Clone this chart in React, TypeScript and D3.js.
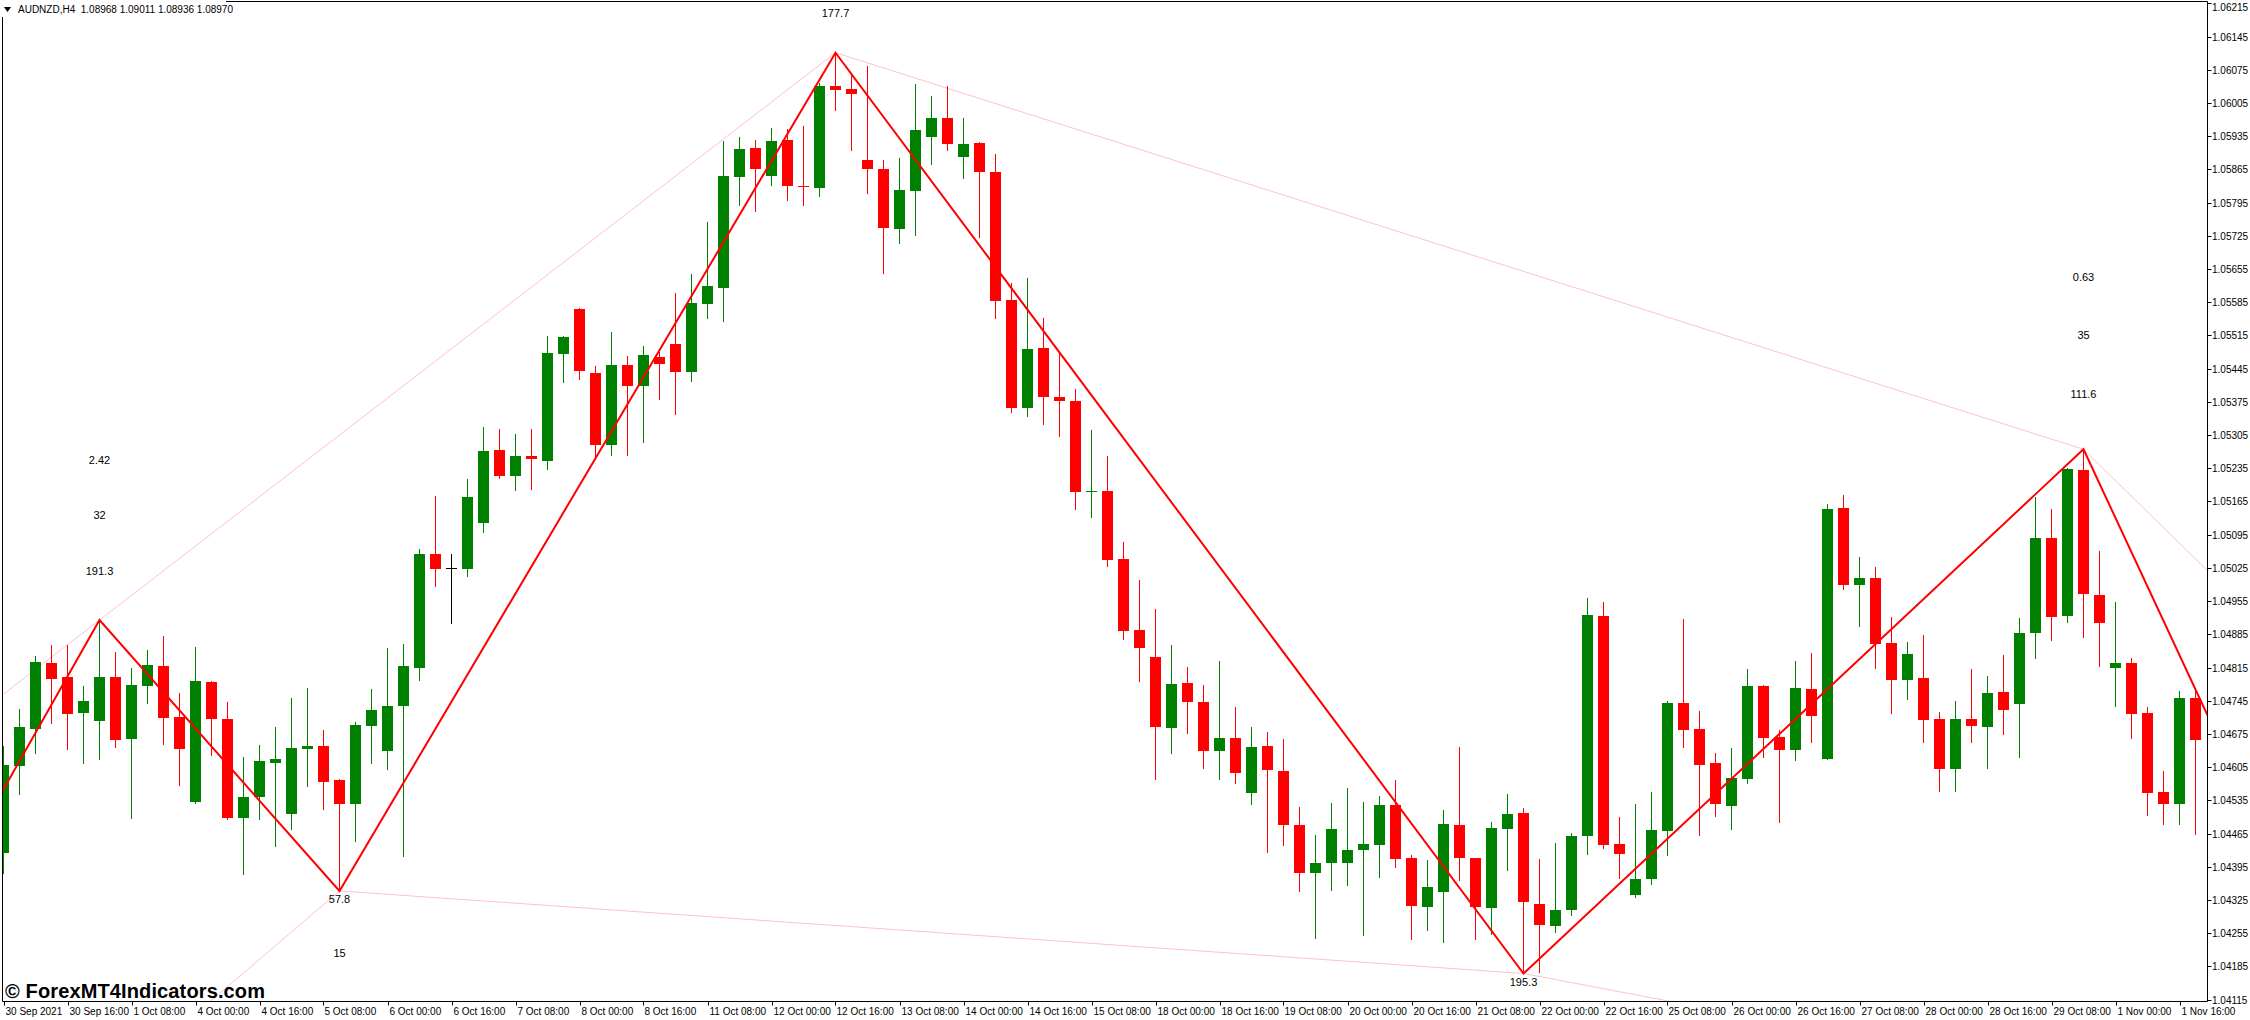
import React, { useEffect } from "react";
import * as d3 from "d3";

const openP = [
  1.04425, 1.04608, 1.04686, 1.04825, 1.04795, 1.0472, 1.04703, 1.04795, 1.04665, 1.04777,
  1.04818, 1.04711, 1.04532, 1.04785, 1.04706, 1.04498, 1.04541, 1.04614, 1.04507, 1.04644,
  1.0465, 1.04578, 1.04528, 1.04692, 1.04638, 1.04733, 1.04815, 1.05054, 1.05025, 1.05023,
  1.05119, 1.05274, 1.05219, 1.05261, 1.05251, 1.05475, 1.05571, 1.05436, 1.05283, 1.05453,
  1.05409, 1.0547, 1.05497, 1.05437, 1.05582, 1.05616, 1.05848, 1.0591, 1.05852, 1.05927,
  1.05831, 1.05825, 1.06041, 1.06035, 1.05885, 1.05866, 1.0574, 1.0582, 1.05934, 1.05974,
  1.05892, 1.05921, 1.0586, 1.0559, 1.05361, 1.05489, 1.05385, 1.05377, 1.05185, 1.05187,
  1.05044, 1.04894, 1.04837, 1.04688, 1.04782, 1.04742, 1.0464, 1.04667, 1.04551, 1.0465,
  1.04597, 1.04483, 1.04382, 1.04402, 1.04402, 1.04431, 1.04441, 1.04525, 1.04413, 1.0431,
  1.04342, 1.04483, 1.04413, 1.04308, 1.04475, 1.04508, 1.04317, 1.04271, 1.04303, 1.04459,
  1.04924, 1.04443, 1.04336, 1.0437, 1.04471, 1.04741, 1.04686, 1.04614, 1.04523, 1.0458,
  1.04776, 1.04669, 1.04642, 1.0477, 1.04623, 1.05151, 1.04988, 1.05004, 1.04867, 1.04789,
  1.04793, 1.04706, 1.04602, 1.04706, 1.0469, 1.04763, 1.04739, 1.04888, 1.05088, 1.04924,
  1.05232, 1.04968, 1.04815, 1.04825, 1.04719, 1.04553, 1.04528, 1.04751,
];

const highP = [
  1.0465, 1.04728, 1.04839, 1.04863, 1.04862, 1.04776, 1.04915, 1.04848, 1.04814, 1.04852,
  1.04882, 1.04761, 1.04858, 1.04786, 1.04742, 1.04626, 1.04652, 1.0469, 1.04751, 1.04772,
  1.04683, 1.04579, 1.047, 1.0477, 1.04856, 1.04864, 1.05065, 1.05177, 1.05054, 1.05213,
  1.05322, 1.05318, 1.05308, 1.05318, 1.05514, 1.05514, 1.05572, 1.05451, 1.05522, 1.05472,
  1.05493, 1.0548, 1.05605, 1.05645, 1.05754, 1.05924, 1.05934, 1.05927, 1.05953, 1.0595,
  1.05957, 1.06047, 1.06111, 1.06068, 1.06083, 1.05885, 1.0589, 1.06045, 1.0602, 1.06041,
  1.05974, 1.05922, 1.05898, 1.05625, 1.05636, 1.05552, 1.05478, 1.05402, 1.05316, 1.05261,
  1.0508, 1.04999, 1.04939, 1.04862, 1.04816, 1.04778, 1.04828, 1.04732, 1.0469, 1.04679,
  1.04664, 1.04521, 1.04462, 1.0453, 1.04561, 1.04532, 1.04544, 1.04578, 1.0442, 1.0441,
  1.04515, 1.04647, 1.04414, 1.0449, 1.04549, 1.04519, 1.04412, 1.04445, 1.04466, 1.04962,
  1.04953, 1.045, 1.04528, 1.04553, 1.04745, 1.04917, 1.04723, 1.04635, 1.04645, 1.04812,
  1.04778, 1.04683, 1.04829, 1.04846, 1.0516, 1.05179, 1.05049, 1.05027, 1.04922, 1.04869,
  1.04884, 1.04721, 1.04744, 1.04812, 1.04797, 1.04841, 1.04919, 1.05175, 1.05149, 1.05235,
  1.05275, 1.05061, 1.04953, 1.04835, 1.04732, 1.04597, 1.04766, 1.04766,
];

const lowP = [
  1.04381, 1.04549, 1.04635, 1.04697, 1.04644, 1.04614, 1.04623, 1.04648, 1.04498, 1.04741,
  1.04654, 1.04568, 1.0453, 1.04631, 1.04496, 1.0438, 1.04496, 1.04439, 1.04475, 1.04566,
  1.04517, 1.04344, 1.0445, 1.04614, 1.04602, 1.04417, 1.04788, 1.04986, 1.04908, 1.05008,
  1.05101, 1.05215, 1.0519, 1.05192, 1.05234, 1.05416, 1.05424, 1.05255, 1.05264, 1.05262,
  1.05291, 1.05382, 1.05349, 1.0542, 1.05551, 1.05546, 1.05789, 1.05778, 1.05833, 1.05801,
  1.05791, 1.05808, 1.05991, 1.05905, 1.05816, 1.05647, 1.05709, 1.05726, 1.05877, 1.05905,
  1.05846, 1.05723, 1.05551, 1.05354, 1.05346, 1.05329, 1.05303, 1.0515, 1.05133, 1.05028,
  1.04876, 1.04787, 1.04579, 1.04635, 1.04676, 1.04604, 1.04579, 1.04572, 1.04528, 1.04427,
  1.0444, 1.04343, 1.04245, 1.04346, 1.04356, 1.04251, 1.04373, 1.04395, 1.04243, 1.04262,
  1.04236, 1.04367, 1.04243, 1.04253, 1.04388, 1.0417, 1.04173, 1.04258, 1.04294, 1.04422,
  1.04434, 1.04371, 1.04332, 1.04359, 1.04419, 1.04647, 1.04461, 1.04502, 1.04475, 1.04572,
  1.04626, 1.0449, 1.04619, 1.04657, 1.04622, 1.04981, 1.04903, 1.04815, 1.0472, 1.04749,
  1.04659, 1.04555, 1.04555, 1.04657, 1.04604, 1.04675, 1.04627, 1.04834, 1.04874, 1.0491,
  1.0488, 1.04819, 1.04734, 1.04667, 1.04505, 1.04486, 1.04486, 1.04463,
];

const closeP = [
  1.0461, 1.0469, 1.04827, 1.04791, 1.04718, 1.04744, 1.04795, 1.04663, 1.04778, 1.0482,
  1.04709, 1.04644, 1.04787, 1.04707, 1.04498, 1.04542, 1.04618, 1.04622, 1.04645, 1.0465,
  1.04574, 1.04528, 1.04694, 1.04726, 1.04734, 1.04818, 1.05054, 1.05022, 1.05025, 1.05174,
  1.05272, 1.05219, 1.05261, 1.05254, 1.05478, 1.05512, 1.05439, 1.05283, 1.05453, 1.05409,
  1.05474, 1.05454, 1.05437, 1.05583, 1.05619, 1.05851, 1.05908, 1.05865, 1.05925, 1.05829,
  1.05827, 1.06041, 1.06033, 1.06023, 1.05865, 1.05742, 1.05822, 1.05948, 1.05974, 1.05919,
  1.05919, 1.0586, 1.05588, 1.05363, 1.05487, 1.05386, 1.05376, 1.05186, 1.05187, 1.05042,
  1.04893, 1.04857, 1.0469, 1.0478, 1.04743, 1.0464, 1.04667, 1.04592, 1.04648, 1.04598,
  1.04482, 1.04382, 1.04403, 1.04474, 1.04431, 1.04443, 1.04525, 1.04412, 1.04312, 1.04352,
  1.04485, 1.04413, 1.0431, 1.04476, 1.04506, 1.0432, 1.04273, 1.04304, 1.0446, 1.04926,
  1.04441, 1.04422, 1.04369, 1.04473, 1.04741, 1.04684, 1.0461, 1.04528, 1.04582, 1.04776,
  1.04667, 1.04641, 1.04772, 1.04713, 1.05149, 1.04988, 1.05004, 1.04865, 1.04789, 1.04844,
  1.04705, 1.04602, 1.04706, 1.04692, 1.04761, 1.04726, 1.04888, 1.05088, 1.04922, 1.05234,
  1.04969, 1.04908, 1.04825, 1.04718, 1.04551, 1.04528, 1.04751, 1.04663,
];

const timeLabels = [
  "30 Sep 2021", "30 Sep 16:00", "1 Oct 08:00", "4 Oct 00:00", "4 Oct 16:00", "5 Oct 08:00",
  "6 Oct 00:00", "6 Oct 16:00", "7 Oct 08:00", "8 Oct 00:00", "8 Oct 16:00", "11 Oct 08:00",
  "12 Oct 00:00", "12 Oct 16:00", "13 Oct 08:00", "14 Oct 00:00", "14 Oct 16:00", "15 Oct 08:00",
  "18 Oct 00:00", "18 Oct 16:00", "19 Oct 08:00", "20 Oct 00:00", "20 Oct 16:00", "21 Oct 08:00",
  "22 Oct 00:00", "22 Oct 16:00", "25 Oct 08:00", "26 Oct 00:00", "26 Oct 16:00", "27 Oct 08:00",
  "28 Oct 00:00", "28 Oct 16:00", "29 Oct 08:00", "1 Nov 00:00", "1 Nov 16:00",
];
const barsPerTimeLabel = 4;

const priceTicks = [
  "1.04115", "1.04185", "1.04255", "1.04325", "1.04395", "1.04465", "1.04535", "1.04605",
  "1.04675", "1.04745", "1.04815", "1.04885", "1.04955", "1.05025", "1.05095", "1.05165",
  "1.05235", "1.05305", "1.05375", "1.05445", "1.05515", "1.05585", "1.05655", "1.05725",
  "1.05795", "1.05865", "1.05935", "1.06005", "1.06075", "1.06145", "1.06215",
];

const zzBars = [-3, 6, 21, 52, 95, 130, 139];
const zzPrices = [1.0438, 1.04915, 1.04344, 1.06111, 1.0417, 1.05275, 1.04624];

// channel lines: two anchor points (bar, price) and the bar range to draw
const pinkLines = [
  { b1: 6, p1: 1.04915, b2: 52, p2: 1.06111, from: -2, to: 52 },
  { b1: 52, p1: 1.06111, b2: 130, p2: 1.05275, from: 52, to: 130 },
  { b1: 130, p1: 1.05275, b2: 140, p2: 1.04945, from: 130, to: 140 },
  { b1: 21, p1: 1.04344, b2: 14, p2: 1.04142, from: 21, to: 12 },
  { b1: 21, p1: 1.04344, b2: 95, p2: 1.0417, from: 21, to: 95 },
  { b1: 95, p1: 1.0417, b2: 105, p2: 1.04106, from: 95, to: 106 },
];

const annotations = [
  { bar: 52, price: 1.06195, text: "177.7" },
  { bar: 21, price: 1.04327, text: "57.8" },
  { bar: 21, price: 1.04213, text: "15" },
  { bar: 95, price: 1.04152, text: "195.3" },
  { bar: 6, price: 1.05252, text: "2.42" },
  { bar: 6, price: 1.05137, text: "32" },
  { bar: 6, price: 1.05019, text: "191.3" },
  { bar: 130, price: 1.05638, text: "0.63" },
  { bar: 130, price: 1.05515, text: "35" },
  { bar: 130, price: 1.05391, text: "111.6" },
];

const titleText = "AUDNZD,H4  1.08968 1.09011 1.08936 1.08970";
const watermark = "\u00A9 ForexMT4Indicators.com";

const W = 2250;
const H = 1020;
const PL = 2.5;
const PT = 1.5;
const PR = 2207.5;
const PB = 1001.5;
const FONT = "'Liberation Sans', Arial, sans-serif";

export default function App() {
  useEffect(() => {
    document.body.style.margin = "0";
  }, []);

  const x = d3.scaleLinear().domain([0, 137]).range([3.5, 3.5 + 16 * 137]);
  const y = d3.scaleLinear().domain([1.04112, 1.0622]).range([1001, 1]);

  const zz = d3
    .line<number>()
    .x((_, i) => x(zzBars[i]))
    .y((d) => y(d));

  const candles = openP.map((o, i) => {
    const c = closeP[i];
    const h = highP[i];
    const l = lowP[i];
    const cx = x(i);
    const color = c > o ? "#008000" : c < o ? "#ff0000" : "#000000";
    const top = Math.round(y(Math.max(o, c)));
    const bot = Math.round(y(Math.min(o, c)));
    const wt = Math.round(y(h));
    const wb = Math.round(y(l));
    return (
      <g key={i} fill={color}>
        <rect x={Math.round(cx - 0.5)} y={wt} width={1} height={Math.max(1, wb - wt + 1)} />
        <rect x={Math.round(cx - 5.5)} y={top} width={11} height={Math.max(1, bot - top)} />
      </g>
    );
  });

  return (
    <svg width={W} height={H} style={{ display: "block", background: "#fff" }} fontFamily={FONT}>
      <defs>
        <clipPath id="plot">
          <rect x={PL + 0.5} y={PT + 0.5} width={PR - PL - 1} height={PB - PT - 1} />
        </clipPath>
      </defs>
      <rect x={0} y={0} width={W} height={H} fill="#fff" />

      <g clipPath="url(#plot)">
        {pinkLines.map((L, i) => {
          const at = (b: number) => L.p1 + ((L.p2 - L.p1) * (b - L.b1)) / (L.b2 - L.b1);
          return (
            <line
              key={i}
              x1={x(L.from)}
              y1={y(at(L.from))}
              x2={x(L.to)}
              y2={y(at(L.to))}
              stroke="#ffc0cb"
              strokeWidth={1}
            />
          );
        })}
        {candles}
        <path d={zz(zzPrices) || ""} fill="none" stroke="#ff0000" strokeWidth={2} />
      </g>

      {annotations.map((a, i) => (
        <text
          key={i}
          x={x(a.bar)}
          y={y(a.price)}
          fontSize={11}
          textAnchor="middle"
          dominantBaseline="central"
          fill="#000"
        >
          {a.text}
        </text>
      ))}

      {/* frame */}
      <g stroke="#000" strokeWidth={1} fill="none">
        <line x1={PL} y1={PT} x2={PR} y2={PT} />
        <line x1={PL} y1={PT} x2={PL} y2={PB} />
        <line x1={PR} y1={PT} x2={PR} y2={PB} />
        <line x1={PL} y1={PB} x2={PR} y2={PB} />
      </g>

      {/* price axis */}
      {priceTicks.map((t) => {
        const yy = Math.round(y(+t)) + 0.5;
        return (
          <g key={t}>
            <line x1={PR} y1={yy} x2={PR + 4} y2={yy} stroke="#000" />
            <text x={2212} y={Math.max(yy, 7)} fontSize={10} dominantBaseline="central" fill="#000">
              {t}
            </text>
          </g>
        );
      })}

      {/* time axis */}
      {timeLabels.map((t, i) => {
        const xx = Math.round(x(i * barsPerTimeLabel)) + 0.5;
        return (
          <g key={t}>
            <line x1={xx} y1={PB} x2={xx} y2={PB + 4} stroke="#000" />
            <text x={xx + 1} y={1011} fontSize={10} dominantBaseline="central" fill="#000">
              {t}
            </text>
          </g>
        );
      })}

      {/* title */}
      <rect x={0} y={0} width={226} height={17} fill="#fff" />
      <path d="M4,7 L11,7 L7.5,12 Z" fill="#000" />
      <text
        x={18}
        y={9.5}
        fontSize={10}
        dominantBaseline="central"
        fill="#000"
        style={{ whiteSpace: "pre" }}
      >
        {titleText}
      </text>

      {/* watermark */}
      <text x={5} y={998} fontSize={20} fontWeight="bold" fill="#000" textLength={260}>
        {watermark}
      </text>
    </svg>
  );
}
